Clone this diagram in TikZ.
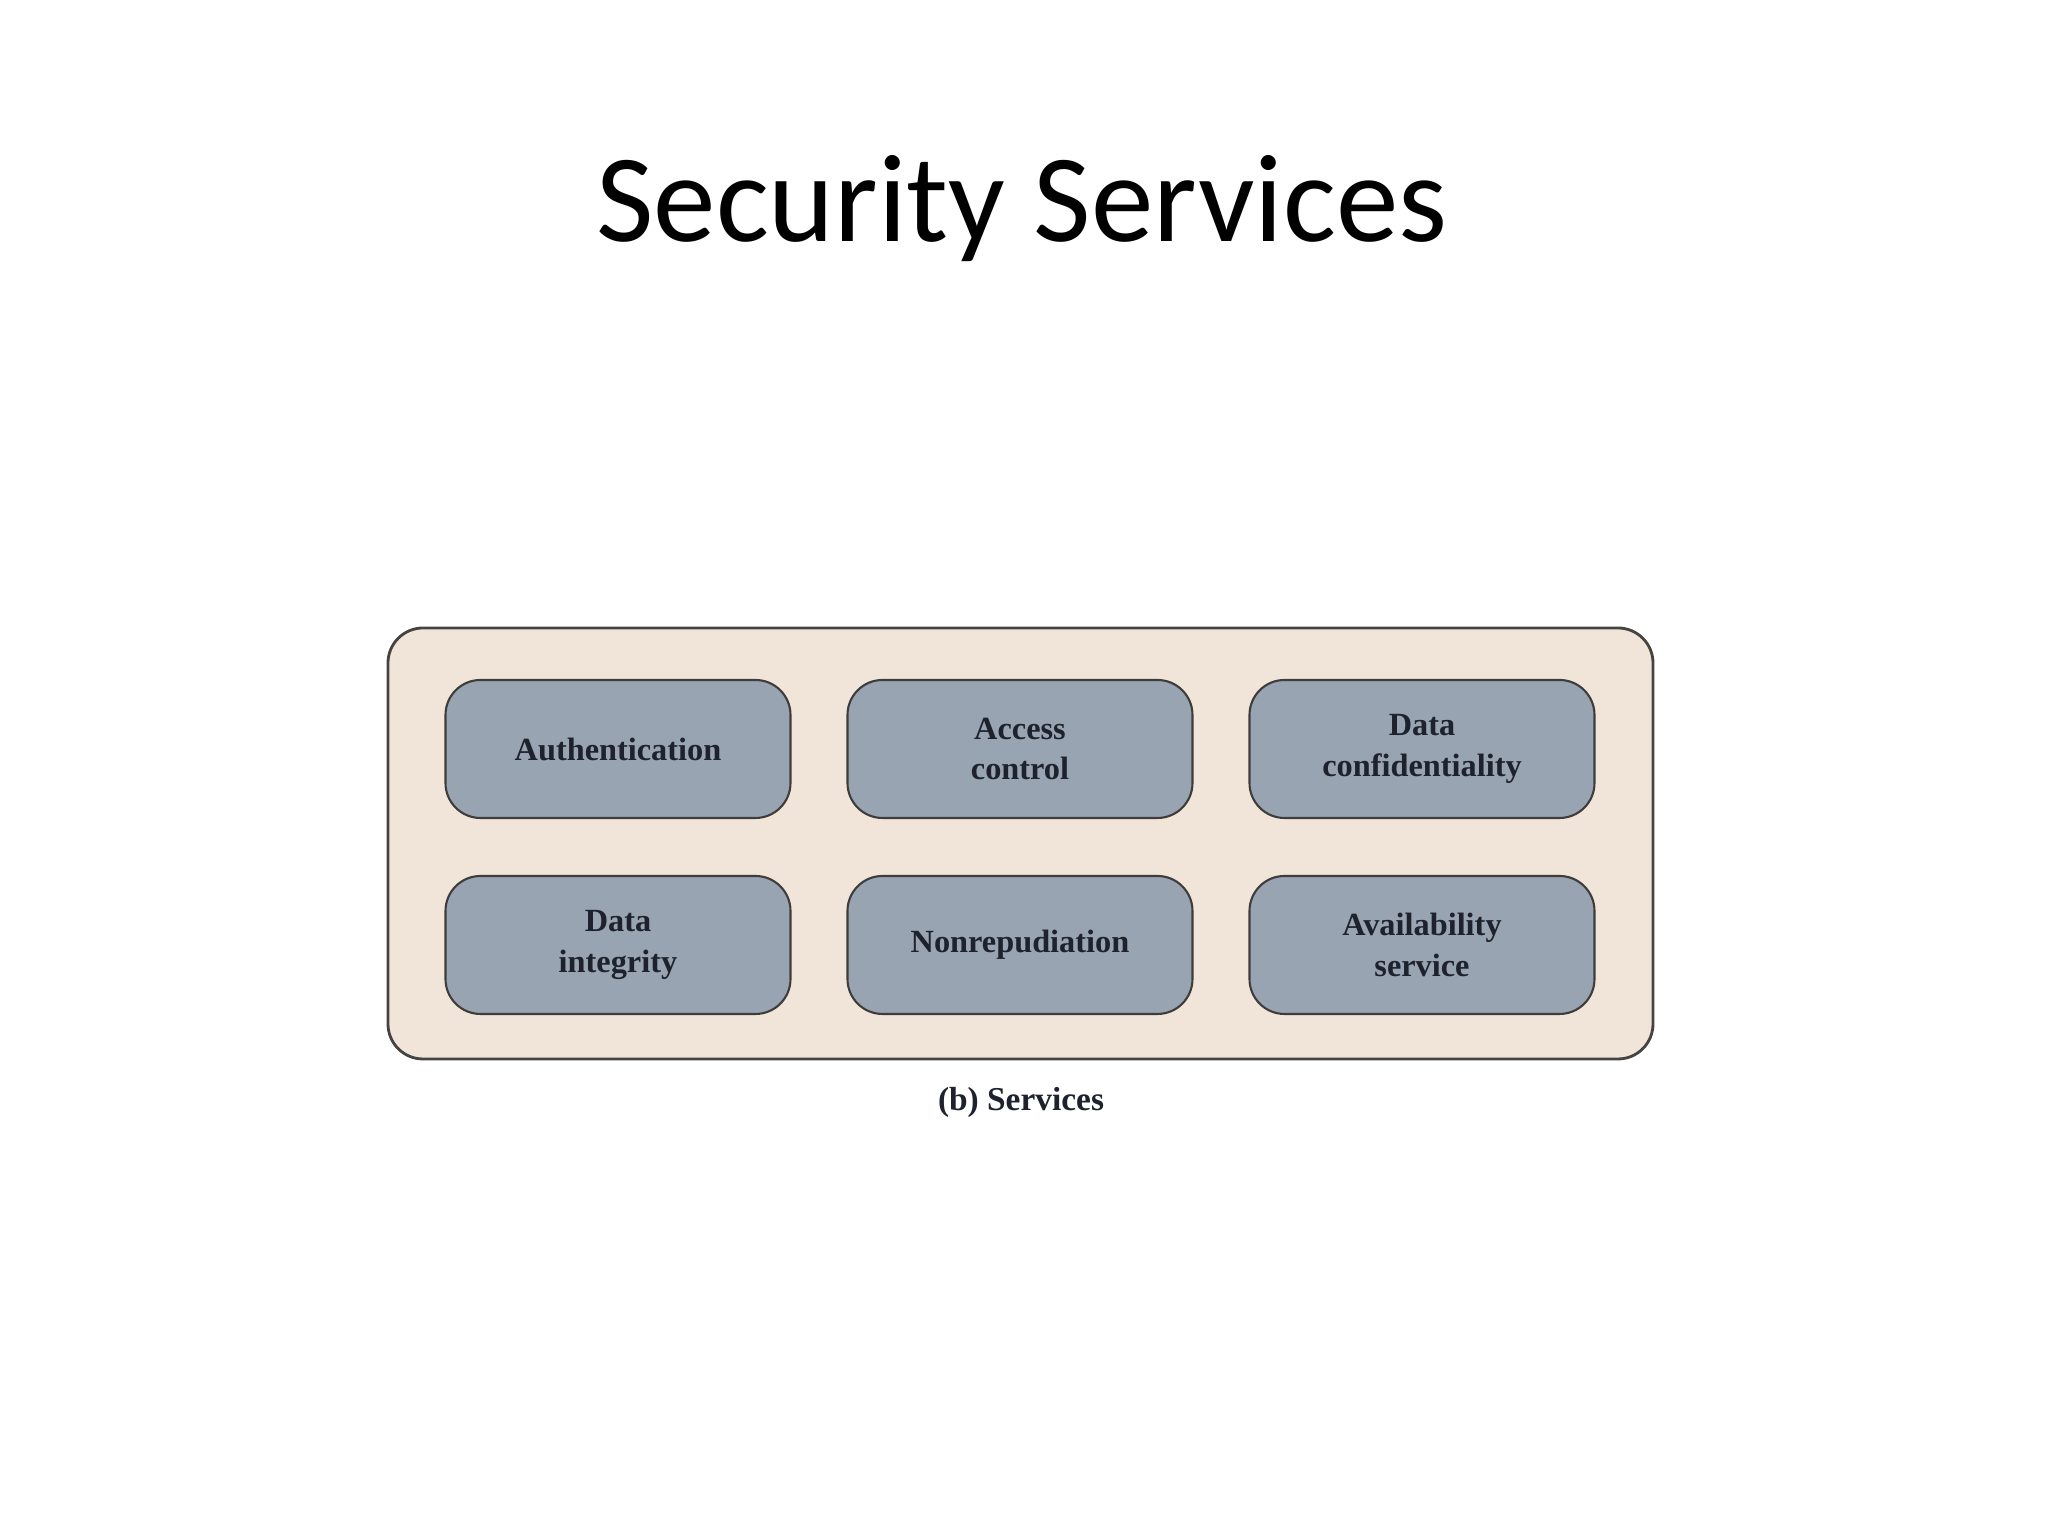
\documentclass[tikz,border=0pt]{standalone}
\usepackage{fontspec}
\setmainfont{Liberation Serif}
\newfontfamily\titlefont{Carlito}
\usetikzlibrary{positioning}
\definecolor{panelbeige}{RGB}{241,229,217}
\definecolor{servicegray}{RGB}{153,164,178}
\definecolor{servicetext}{RGB}{30,34,44}
\definecolor{edgegray}{RGB}{70,68,66}
\tikzset{
  panel/.style={draw=edgegray, line width=0.8pt, fill=panelbeige,
                rounded corners=3.5mm, minimum width=126.5mm,
                minimum height=43.1mm},
  service/.style={draw=edgegray!90!black, line width=0.6pt, fill=servicegray,
                  rounded corners=3.5mm, minimum width=34.5mm,
                  minimum height=13.8mm, align=center,
                  text=servicetext, font=\fontsize{9.2}{11.5}\selectfont\bfseries},
  caption/.style={font=\fontsize{9.5}{11}\selectfont\bfseries, text=servicetext},
  headline/.style={font=\titlefont\fontsize{35.6}{40}\selectfont},
}
\begin{document}
\begin{tikzpicture}[x=1cm,y=1cm]
  \path[use as bounding box, fill=white] (0,0) rectangle (20.48,15.36);

  \node[headline, anchor=base] (title) at (10.22,12.94) {Security Services};

  % panel with the six services
  \node[panel] (panel) at (10.205,6.925) {};
  \node[service] (auth) at (6.18,7.87) {Authentication};
  \node[service] (access) at (10.20,7.87) {Access\\control};
  \node[service] (conf) at (14.22,7.87) {Data\\confidentiality};
  \node[service] (integ) at (6.18,5.91) {Data\\integrity};
  \node[service] (nonrep) at (10.20,5.91) {Nonrepudiation};
  \node[service] (avail) at (14.22,5.91) {Availability\\service};

  \node[caption] (cap) at (10.21,4.34) {(b) Services};
\end{tikzpicture}
\end{document}
